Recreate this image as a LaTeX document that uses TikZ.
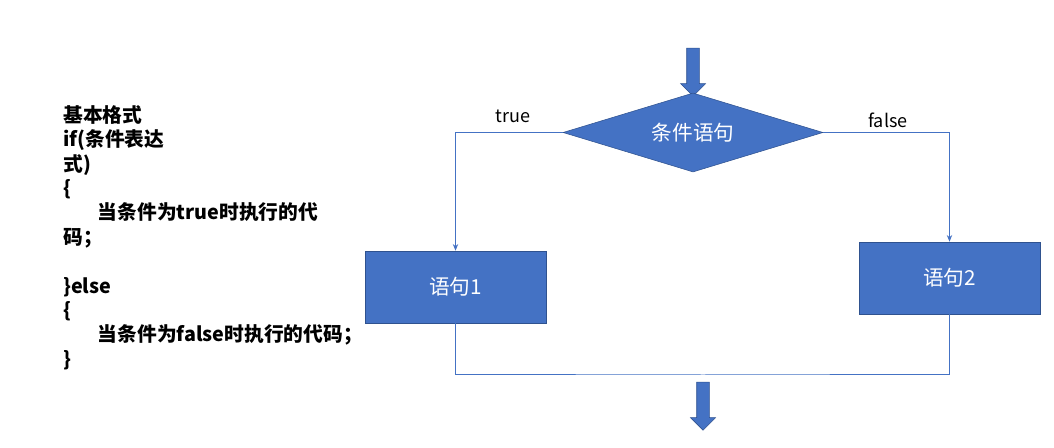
\documentclass[tikz,border=0pt]{standalone}
\usepackage{fontspec}
\setmainfont{Noto Sans CJK SC}
\usepackage{tikz}
\usetikzlibrary{shapes.geometric, shapes.arrows, positioning, arrows.meta}
\definecolor{flowBlue}{RGB}{68,114,196}
\definecolor{flowEdge}{RGB}{47,82,143}

\begin{document}
\begin{tikzpicture}[
    x=0.75pt, y=-0.75pt,
    stmt/.style={draw=flowEdge, fill=flowBlue, minimum width=135.75pt, minimum height=54pt,
                 inner sep=0pt, text=white, font=\fontsize{15.5}{17}\selectfont},
    cond/.style={diamond, aspect=3.3, draw=flowEdge, fill=flowBlue, minimum width=195pt,
                 minimum height=59.25pt, inner sep=0pt, text=white, font=\fontsize{15.5}{17}\selectfont},
    bigarrow/.style={single arrow, draw=flowEdge, fill=flowBlue, rotate=-90, inner xsep=0pt,
                     inner ysep=4.5pt, minimum height=36pt, single arrow head extend=4.7pt},
    link/.style={draw=flowBlue, line width=0.75pt},
    tag/.style={font=\fontsize{13.5}{15}\selectfont}
  ]
  \useasboundingbox[fill=white] (0,0) rectangle (1054,448);

  % code on the left
  \node[anchor=north west, inner sep=0pt, align=left,
        font=\bfseries\fontsize{14.8}{18.3}\selectfont] (codeText) at (63,105) {%
    基本格式\\
    if(条件表达\\
    式)\\
    \{\\
    \hspace*{26pt}当条件为true时执行的代\\
    码；\\
    \mbox{}\\
    \}else\\
    \{\\
    \hspace*{26pt}当条件为false时执行的代码；\\
    \}};

  % flow chart
  \node[bigarrow] (inArrow) at (693,69) {};
  \node[cond] (check) at (693,132.5) {条件语句};
  \node[stmt] (stmtA) at (455.5,287) {语句1};
  \node[stmt] (stmtB) at (949.5,278) {语句2};
  \node[tag] (trueTag) at (513,116) {true};
  \node[tag] (falseTag) at (888,120) {false};
  \coordinate (merge) at (703,375);
  \node[bigarrow] (outArrow) at (703,403) {};

  \draw[link, -{Stealth[length=5pt, width=4pt]}] (check.west) -| (stmtA.north);
  \draw[link, -{Stealth[length=5pt, width=4pt]}] (check.east) -| (stmtB.north);
  \draw[link] (stmtA.south) |- (merge) -| (stmtB.south);
\end{tikzpicture}
\end{document}
